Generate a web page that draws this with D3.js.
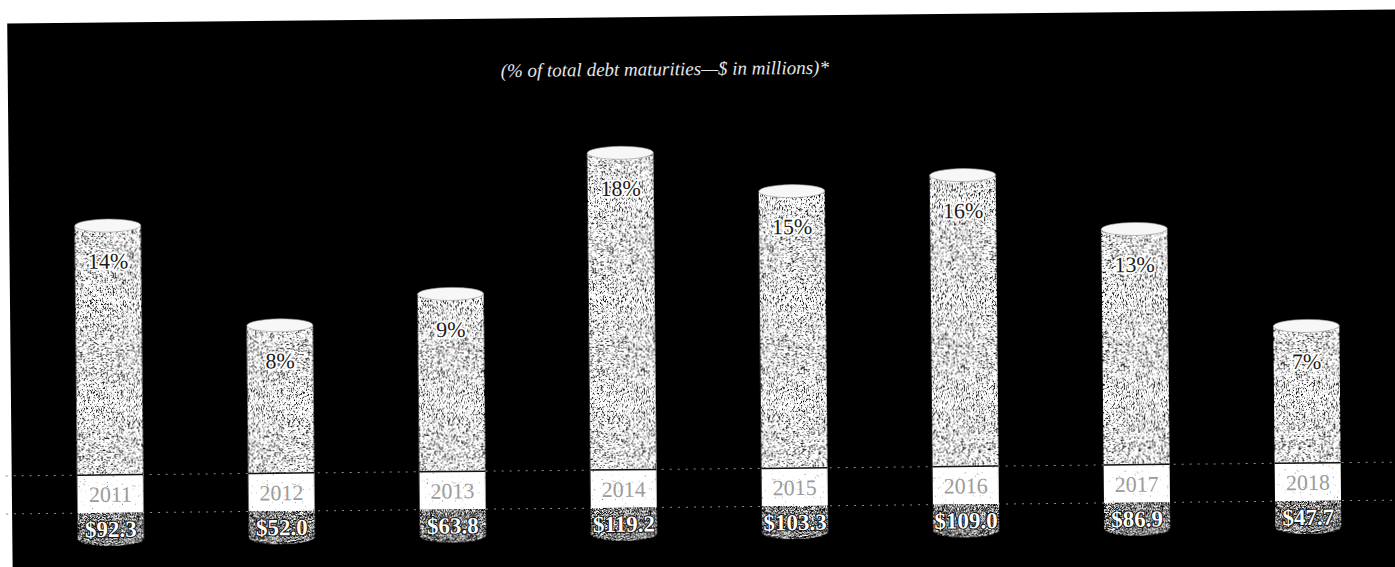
<!DOCTYPE html>
<html>
<head>
<meta charset="utf-8">
<script src="https://cdn.jsdelivr.net/npm/d3@7/dist/d3.min.js"></script>
<style>
  html, body { margin: 0; padding: 0; background: #ffffff; }
  svg { display: block; }
</style>
</head>
<body>
<svg id="chart" width="1395" height="567"></svg>
<script>
// ---- data ----
const years = ["2011", "2012", "2013", "2014", "2015", "2016", "2017", "2018"];
const amounts = [92.3, 52.0, 63.8, 119.2, 103.3, 109.0, 86.9, 47.7];
const percents = [14, 8, 9, 18, 15, 16, 13, 7];
const yearLabels = ["2011", "2012", "2013", "2014", "2015", "2016", "2017", "2018"];
const titleText = "(% of total debt maturities\u2014$ in millions)*";

const data = years.map((yr, i) => ({ year: yr, amount: amounts[i], pct: percents[i], label: yearLabels[i] }));

// ---- layout ----
const svg = d3.select("#chart");
const serif = "'Liberation Serif', 'DejaVu Serif', serif";

const defs = svg.append("defs");
function stipple(id, fx, fy, seed, slope, intercept) {
  const f = defs.append("filter").attr("id", id)
    .attr("x", 0).attr("y", 0).attr("width", 1).attr("height", 1)
    .attr("color-interpolation-filters", "sRGB");
  f.append("feTurbulence").attr("type", "fractalNoise")
    .attr("baseFrequency", fx + " " + fy).attr("numOctaves", 3).attr("seed", seed).attr("result", "n");
  f.append("feColorMatrix").attr("in", "n").attr("type", "matrix")
    .attr("values", "1 0 0 0 0  1 0 0 0 0  1 0 0 0 0  0 0 0 0 1").attr("result", "g");
  const ct = f.append("feComponentTransfer").attr("in", "g").attr("result", "t");
  ["feFuncR", "feFuncG", "feFuncB"].forEach(fn =>
    ct.append(fn).attr("type", "linear").attr("slope", slope).attr("intercept", intercept));
  f.append("feComposite").attr("in", "t").attr("in2", "SourceGraphic").attr("operator", "in");
}
stipple("lightTex", 1.6, 0.5, 4, 4, -1.0);
stipple("darkTex", 1.5, 1.2, 9, 4, -1.5);
stipple("bandTex", 1.6, 1.6, 2, 4, -0.1);

// whole scanned page is slightly rotated
const g = svg.append("g").attr("transform", "rotate(-0.57,700,300)");

g.append("rect").attr("x", 10).attr("y", 16.5).attr("width", 1500).attr("height", 700).attr("fill", "#000");

g.append("text")
  .attr("x", 667).attr("y", 75)
  .attr("text-anchor", "middle")
  .attr("font-family", serif).attr("font-style", "italic")
  .attr("font-size", 19).attr("fill", "#e6e6e6")
  .text(titleText);

const x = d3.scalePoint().domain(years).range([108.5, 1306]);
const y = d3.scaleLinear().domain([0, 120]).range([452, 150]);

const bandTop = 469, bandBot = 507, baseY = 533;
const bw = 66, topRy = 6.5, botRy = 7;

// dotted guide lines
[bandTop, bandBot].forEach(yy => {
  g.append("line").attr("x1", -20).attr("x2", 1420).attr("y1", yy).attr("y2", yy)
    .attr("stroke", "#8a8a8a").attr("stroke-width", 1).attr("stroke-dasharray", "2 6");
});

const bars = g.selectAll("g.bar").data(data).join("g").attr("class", "bar");

// body
bars.append("rect")
  .attr("x", d => x(d.year) - bw / 2).attr("y", d => y(d.amount))
  .attr("width", bw).attr("height", d => bandTop - y(d.amount))
  .attr("fill", "#fff").attr("filter", "url(#lightTex)");

// white year band
bars.append("rect")
  .attr("x", d => x(d.year) - bw / 2).attr("y", bandTop)
  .attr("width", bw).attr("height", bandBot - bandTop)
  .attr("fill", "#fff").attr("filter", "url(#bandTex)");

// dark base
bars.append("path")
  .attr("d", d => {
    const x0 = x(d.year) - bw / 2, x1 = x(d.year) + bw / 2;
    return `M${x0},${bandBot}L${x1},${bandBot}L${x1},${baseY}A${bw / 2},${botRy} 0 0 1 ${x0},${baseY}Z`;
  })
  .attr("fill", "#fff").attr("filter", "url(#darkTex)");

// separating line
bars.append("line")
  .attr("x1", d => x(d.year) - bw / 2).attr("x2", d => x(d.year) + bw / 2)
  .attr("y1", bandTop).attr("y2", bandTop)
  .attr("stroke", "#111").attr("stroke-width", 1.5);

// top ellipse
bars.append("ellipse")
  .attr("cx", d => x(d.year)).attr("cy", d => y(d.amount))
  .attr("rx", bw / 2).attr("ry", topRy)
  .attr("fill", "#f7f7f7").attr("stroke", "#999").attr("stroke-width", 0.6);

// percent labels
bars.append("text")
  .attr("x", d => x(d.year)).attr("y", d => y(d.amount) + 43)
  .attr("text-anchor", "middle")
  .attr("font-family", serif).attr("font-size", 22)
  .attr("fill", "#1a1a1a").attr("stroke", "#ffffff").attr("stroke-width", 3.5)
  .attr("paint-order", "stroke")
  .text(d => d.pct + "%");

// year labels
bars.append("text")
  .attr("x", d => x(d.year)).attr("y", bandTop + 27)
  .attr("text-anchor", "middle")
  .attr("font-family", serif).attr("font-size", 22)
  .attr("fill", "#9c9c9c")
  .text(d => d.label);

// amount labels
bars.append("text")
  .attr("x", d => x(d.year)).attr("y", bandBot + 24)
  .attr("text-anchor", "middle")
  .attr("font-family", serif).attr("font-weight", "bold").attr("font-size", 23)
  .attr("fill", "#ffffff").attr("stroke", "#111").attr("stroke-width", 2)
  .attr("paint-order", "stroke")
  .text(d => "$" + d.amount.toFixed(1));
</script>
</body>
</html>
